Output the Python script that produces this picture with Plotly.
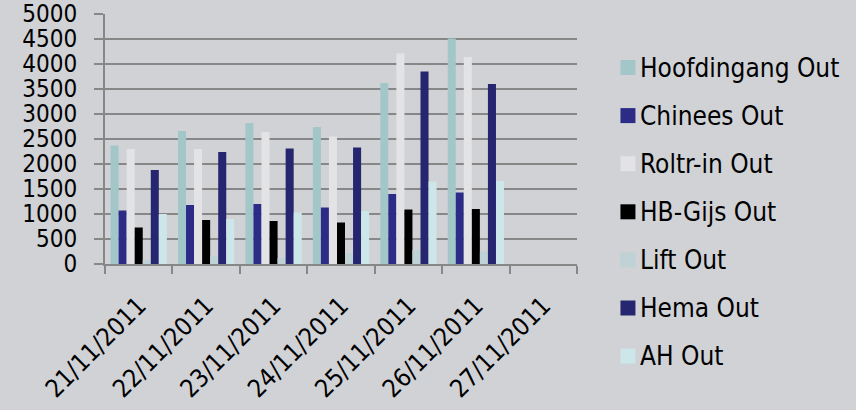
import plotly.graph_objects as go

# Daily outgoing visitor counts per entrance
dates = ["21/11/2011", "22/11/2011", "23/11/2011", "24/11/2011",
         "25/11/2011", "26/11/2011", "27/11/2011"]

hoofdingang = [2370, 2660, 2820, 2740, 3620, 4510, None]
chinees = [1070, 1180, 1200, 1130, 1400, 1430, None]
roltr_in = [2300, 2300, 2640, 2550, 4210, 4140, None]
hb_gijs = [730, 880, 860, 830, 1090, 1100, None]
lift = [80, 160, 120, 220, 280, 250, None]
hema = [1880, 2240, 2310, 2330, 3850, 3600, None]
ah = [1000, 900, 1030, 1060, 1650, 1660, None]

y_ticks = [0, 500, 1000, 1500, 2000, 2500, 3000, 3500, 4000, 4500, 5000]

series_names = ["Hoofdingang Out", "Chinees Out", "Roltr-in Out", "HB-Gijs Out",
                "Lift Out", "Hema Out", "AH Out"]
series_values = [hoofdingang, chinees, roltr_in, hb_gijs, lift, hema, ah]
series_colors = ["#a3c6c9", "#2c2b86", "#e3e3e5", "#000000",
                 "#bfd2d5", "#26256f", "#cce6ea"]

W, H = 856, 410
PLOT_L, PLOT_R, PLOT_T, PLOT_B = 105, 577.5, 14, 264
FONT = "DejaVu Sans Condensed, DejaVu Sans, sans-serif"
GRID = "#878787"

fig = go.Figure()
for name, vals, col in zip(series_names, series_values, series_colors):
    fig.add_trace(go.Bar(x=dates, y=vals, name=name, marker_color=col,
                         marker_line_width=0, showlegend=False))

# Legend drawn as swatches + labels to the right of the plot area
def px_x(px):
    return (px - PLOT_L) / (PLOT_R - PLOT_L)

def px_y(py):
    return (PLOT_B - py) / (PLOT_B - PLOT_T)

shapes = []
annotations = []
for i, (name, col) in enumerate(zip(series_names, series_colors)):
    cy = 67.5 + i * 48.1
    shapes.append(dict(type="rect", xref="paper", yref="paper",
                       x0=px_x(621), x1=px_x(636), y0=px_y(cy + 7.5), y1=px_y(cy - 7.5),
                       fillcolor=col, line_width=0, layer="above"))
    annotations.append(dict(xref="paper", yref="paper", x=px_x(639), y=px_y(cy),
                            text=name, showarrow=False, xanchor="left", yanchor="middle",
                            font=dict(family=FONT, size=26, color="#000000")))

fig.update_layout(
    width=W, height=H,
    margin=dict(l=PLOT_L, r=W - PLOT_R, t=PLOT_T, b=H - PLOT_B, pad=0,
                autoexpand=False),
    paper_bgcolor="#d0d2d6", plot_bgcolor="rgba(0,0,0,0)",
    barmode="group", bargap=0.165, bargroupgap=0,
    font=dict(family=FONT, size=25, color="#000000"),
    shapes=shapes, annotations=annotations,
    xaxis=dict(
        automargin=False,
        showline=True, linecolor=GRID, linewidth=2,
        ticks="outside", tickson="boundaries", ticklen=8, tickwidth=2, tickcolor=GRID,
        tickangle=-45, showgrid=False, tickfont=dict(size=25),
        ticklabelstandoff=15,
    ),
    yaxis=dict(
        automargin=False,
        range=[0, 5001], tickmode="array", tickvals=y_ticks,
        showline=True, linecolor=GRID, linewidth=2,
        showgrid=True, gridcolor=GRID, gridwidth=2, zeroline=False,
        ticks="outside", ticklen=9, tickwidth=2, tickcolor=GRID,
        ticklabelstandoff=12, tickfont=dict(size=24),
    ),
)

fig.write_html("out.html")
